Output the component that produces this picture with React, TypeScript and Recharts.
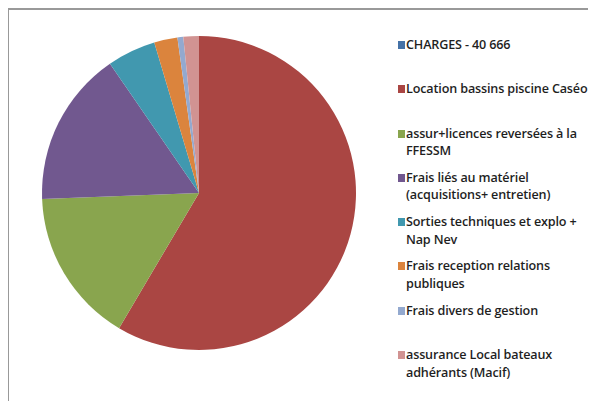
import { PieChart, Pie, Cell, Legend } from 'recharts';

// postes de charges du club (total 40 666)
const labels = [
    'CHARGES - 40 666',
    'Location bassins piscine Caséo',
    'assur+licences reversées à la FFESSM',
    'Frais liés au matériel (acquisitions+ entretien)',
    'Sorties techniques et explo + Nap Nev',
    'Frais reception relations publiques',
    'Frais divers de gestion',
    'assurance Local bateaux adhérants (Macif)',
];
const legendLines = [
    ['CHARGES - 40 666'],
    ['Location bassins piscine Caséo'],
    ['assur+licences reversées à la', 'FFESSM'],
    ['Frais liés au matériel', '(acquisitions+ entretien)'],
    ['Sorties techniques et explo +', 'Nap Nev'],
    ['Frais reception relations', 'publiques'],
    ['Frais divers de gestion'],
    ['assurance Local bateaux', 'adhérants (Macif)'],
];
const amounts = [0, 23790, 6466, 6507, 2033, 976, 244, 650];
const colors = ['#4572A7', '#AA4643', '#89A54E', '#71588F', '#4198AF', '#DB843D', '#93A9CF', '#D19392'];

const data = labels.map((name, i) => ({ name, value: amounts[i] }));

const renderLegend = () => (
    <div style={{ fontFamily: '"Open Sans", sans-serif', fontSize: 12.6, fontWeight: 600, color: '#1f1f1f', letterSpacing: -0.15 }}>
        {legendLines.map((lines, i) => (
            <div key={i} style={{ position: 'relative', height: 44.3, paddingLeft: 8 }}>
                <span
                    style={{
                        position: 'absolute',
                        left: 0,
                        top: 5,
                        width: 7,
                        height: 8,
                        background: colors[i],
                    }}
                />
                {lines.map((l, j) => (
                    <div key={j} style={{ lineHeight: '17.5px', whiteSpace: 'nowrap' }}>
                        {l}
                    </div>
                ))}
            </div>
        ))}
    </div>
);

export default function App() {
    return (
        <div style={{ position: 'relative', width: 588, height: 393, background: '#fff' }}>
            {/* cadre du graphique (coin haut-gauche visible) */}
            <div style={{ position: 'absolute', left: -2, top: 0, width: 590, height: 2, background: '#999' }} />
            <div style={{ position: 'absolute', left: -2, top: 0, width: 3, height: 393, background: '#999' }} />
            <div style={{ position: 'absolute', left: -8, top: -8 }}>
                <PieChart width={596} height={401} margin={{ top: 0, right: 0, bottom: 0, left: 0 }}>
                    <Pie
                        data={data}
                        dataKey="value"
                        nameKey="name"
                        cx={199}
                        cy={193}
                        outerRadius={157}
                        startAngle={90}
                        endAngle={-270}
                        stroke="none"
                        isAnimationActive={false}
                    >
                        {data.map((entry, index) => (
                            <Cell key={`cell-${index}`} fill={colors[index]} />
                        ))}
                    </Pie>
                    <Legend
                        layout="vertical"
                        align="right"
                        verticalAlign="top"
                        content={renderLegend}
                        wrapperStyle={{ left: 398, top: 36, width: 198 }}
                    />
                </PieChart>
            </div>
        </div>
    );
}
